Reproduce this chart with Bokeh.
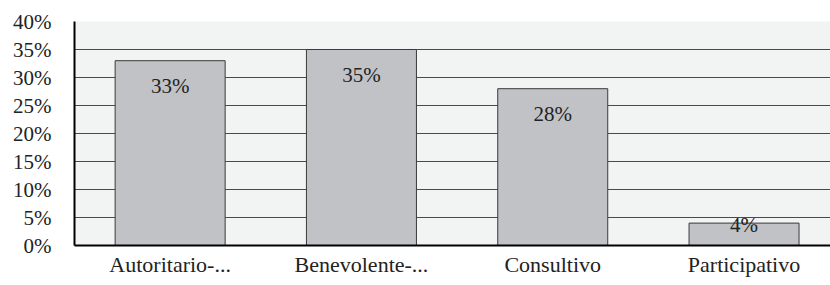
from bokeh.plotting import figure
from bokeh.models import ColumnDataSource, Range1d, FixedTicker, LabelSet
from bokeh.embed import file_html
from bokeh.resources import INLINE

categories = ["Autoritario-...", "Benevolente-...", "Consultivo", "Participativo"]
values = [33, 35, 28, 4]
y_ticks = [0, 5, 10, 15, 20, 25, 30, 35, 40]
y_tick_labels = ["0%", "5%", "10%", "15%", "20%", "25%", "30%", "35%", "40%"]

FONT = "Liberation Serif"

xs = [i + 0.5 for i in range(len(categories))]
label_y = [v - 4.6 if v > 8 else v - 0.35 for v in values]
labels = [f"{v}%" for v in values]
src = ColumnDataSource(dict(x=xs, top=values, ly=label_y, lab=labels))

p = figure(width=830, height=285, output_backend="svg", toolbar_location=None,
           x_range=Range1d(0, 3.952), y_range=Range1d(0, 40),
           min_border_left=74, min_border_right=0, min_border_top=21, min_border_bottom=40)
p.background_fill_color = "#F2F3F3"
p.border_fill_color = "white"
p.outline_line_color = None

p.vbar(x="x", top="top", bottom=0, width=0.575, source=src,
       fill_color="#C1C2C6", line_color="#3a3a3a", line_width=1)

p.add_layout(LabelSet(x="x", y="ly", text="lab", source=src, text_align="center",
                      text_baseline="middle", text_font=FONT, text_font_size="21px",
                      text_color="#222222"))

p.xgrid.visible = False
p.ygrid.ticker = FixedTicker(ticks=y_ticks)
p.ygrid.grid_line_color = "#4a4a4a"
p.ygrid.grid_line_width = 1

p.yaxis.ticker = FixedTicker(ticks=y_ticks)
p.yaxis.major_label_overrides = {t: l for t, l in zip(y_ticks, y_tick_labels)}
p.yaxis.axis_line_color = "black"
p.yaxis.axis_line_width = 2
p.yaxis.major_tick_line_color = None
p.yaxis.minor_tick_line_color = None
p.yaxis.major_label_standoff = 17
p.yaxis.major_label_text_font = FONT
p.yaxis.major_label_text_font_size = "21px"
p.yaxis.major_label_text_color = "#222222"

p.xaxis.ticker = FixedTicker(ticks=xs)
p.xaxis.major_label_overrides = {x: c for x, c in zip(xs, categories)}
p.xaxis.axis_line_color = "black"
p.xaxis.axis_line_width = 2
p.xaxis.major_tick_line_color = None
p.xaxis.minor_tick_line_color = None
p.xaxis.major_label_standoff = 0
p.xaxis.major_label_text_font = FONT
p.xaxis.major_label_text_font_size = "22px"
p.xaxis.major_label_text_color = "#222222"

open("out.html", "w").write(file_html(p, INLINE))
